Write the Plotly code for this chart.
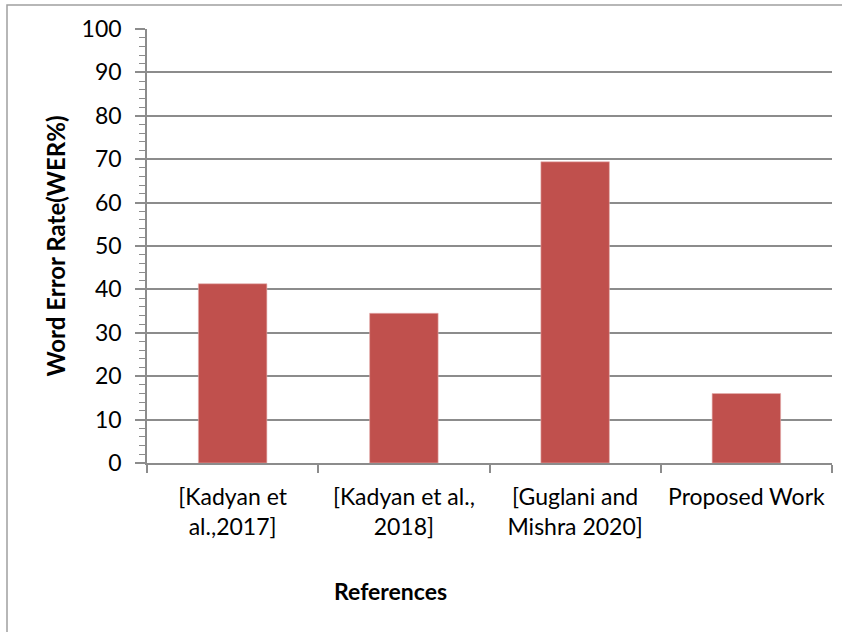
import plotly.graph_objects as go

categories = ["[Kadyan et<br>al.,2017]", "[Kadyan et al.,<br>2018]",
              "[Guglani and<br>Mishra 2020]", "Proposed Work"]
wer_values = [41.3, 34.5, 69.4, 16.0]
y_ticks = [0, 10, 20, 30, 40, 50, 60, 70, 80, 90, 100]

FONT = "Lato"
GREY = "#8c8c8c"
FS = 23

fig = go.Figure()
fig.add_trace(go.Bar(
    x=categories, y=wer_values,
    marker=dict(color="#C0504D", line=dict(color="#E6B0AE", width=0.6)),
    width=0.4,
))

W, H = 842, 632
L, R, T, B = 147, 10, 29, 169
pw, ph = W - L - R, H - T - B

fig.update_layout(
    width=W, height=H,
    margin=dict(l=L, r=R, t=T, b=B),
    paper_bgcolor="white", plot_bgcolor="white",
    showlegend=False,
    font=dict(family=FONT, color="black", size=FS),
    xaxis=dict(
        type="category", tickson="boundaries", ticks="outside", ticklen=8,
        tickcolor=GREY, tickwidth=1.5,
        showline=True, linecolor=GREY, linewidth=1.5,
        showgrid=False, tickfont=dict(size=FS, family=FONT),
        ticklabelstandoff=13,
    ),
    yaxis=dict(
        range=[0, 100], tickvals=y_ticks, ticks="outside", ticklen=10,
        tickcolor=GREY, tickwidth=1.5,
        showline=True, linecolor=GREY, linewidth=1.5,
        showgrid=True, gridcolor=GREY, gridwidth=1.5,
        zeroline=False,
        tickfont=dict(size=FS, family=FONT),
        ticklabelstandoff=9,
        minor=dict(ticks="outside", dtick=2, ticklen=6, tickcolor=GREY,
                   tickwidth=1, showgrid=False),
        title=dict(text="<b>Word Error Rate(WER%)</b>",
                   font=dict(size=FS + 1, family=FONT), standoff=9),
    ),
    shapes=[dict(type="rect", xref="paper", yref="paper",
                 x0=(7 - L) / pw, x1=1.2, y0=-0.5, y1=(H - B - 5) / ph,
                 line=dict(color="#a0a0a0", width=1.5), layer="below")],
    annotations=[dict(text="<b>References</b>", xref="paper", yref="paper",
                      x=(390 - L) / pw, y=(H - B - 591) / ph,
                      showarrow=False, font=dict(size=FS, family=FONT),
                      xanchor="center", yanchor="middle")],
)

fig.write_html("out.html")
